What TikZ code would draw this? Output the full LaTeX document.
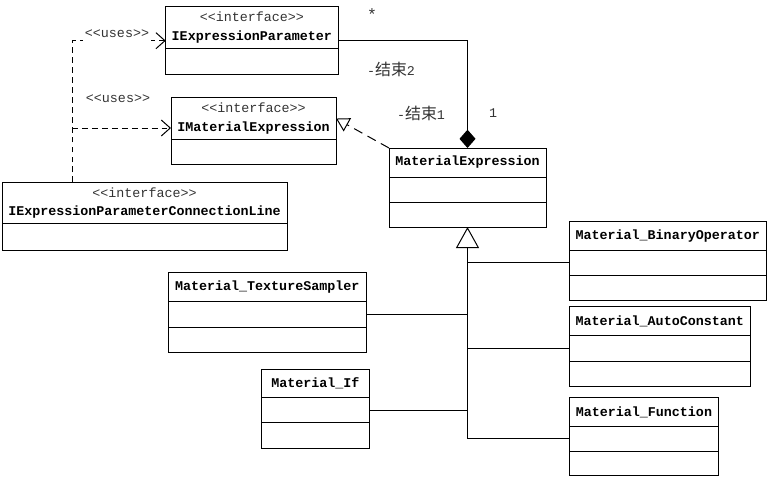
\documentclass[tikz,border=0pt]{standalone}
\usepackage{fontspec}
\setmonofont{Liberation Mono}
\newfontfamily\cjk{Noto Sans CJK SC}
\usetikzlibrary{positioning,arrows.meta}
\newcommand{\zh}[1]{{\cjk\fontsize{13.6}{14}\selectfont #1}}

\begin{document}
\begin{tikzpicture}[x=0.03cm,y=-0.03cm,line width=0.85pt,
    head/.style={draw,outer sep=0pt,inner sep=0pt,anchor=north west,align=center,
      font=\ttfamily\bfseries\fontsize{11.4}{15.4}\selectfont},
    comp/.style={draw,outer sep=0pt,inner sep=0pt,minimum height=0.76cm},
    lbl/.style={text=black!80,font=\ttfamily\fontsize{11.4}{14}\selectfont},
    uses/.style={dash pattern=on 5pt off 3.5pt,-{Straight Barb[length=0.27cm,width=0.48cm]}},
    realize/.style={dash pattern=on 8pt off 5pt,-{Triangle[open,length=0.39cm,width=0.45cm]}},
    inherit/.style={-{Triangle[open,length=0.63cm,width=0.69cm]}},
    compose/.style={-{Diamond[length=0.55cm,width=0.48cm]}}]
    \useasboundingbox (0,0) rectangle (767,477);

    % interfaces
    \node[head,minimum width=5.17cm,minimum height=1.25cm] (ep) at (165.7,6.7)
        {{\mdseries\color{black!80}<<interface>>}\\IExpressionParameter};
    \node[comp,minimum width=5.17cm,minimum height=0.77cm,below=0pt of ep] (ep1) {};

    \node[head,minimum width=4.95cm,minimum height=1.25cm] (ime) at (171,97.7)
        {{\mdseries\color{black!80}<<interface>>}\\IMaterialExpression};
    \node[comp,minimum width=4.95cm,minimum height=0.74cm,below=0pt of ime] (ime1) {};

    \node[head,minimum width=8.55cm,minimum height=1.23cm] (cl) at (2,182.3)
        {{\mdseries\color{black!80}<<interface>>}\\IExpressionParameterConnectionLine};
    \node[comp,minimum width=8.55cm,minimum height=0.81cm,below=0pt of cl] (cl1) {};

    % classes
    \node[head,minimum width=4.71cm,minimum height=0.87cm] (me) at (389,148) {MaterialExpression};
    \node[comp,minimum width=4.71cm,minimum height=0.75cm,below=0pt of me] (me1) {};
    \node[comp,minimum width=4.71cm,minimum height=0.75cm,below=0pt of me1] (me2) {};

    \node[head,minimum width=5.895cm,minimum height=0.85cm] (bin) at (569.5,221.7) {Material\_BinaryOperator};
    \node[comp,minimum width=5.895cm,below=0pt of bin] (bin1) {};
    \node[comp,minimum width=5.895cm,below=0pt of bin1] (bin2) {};

    \node[head,minimum width=5.93cm,minimum height=0.876cm] (tex) at (168.4,272.5) {Material\_TextureSampler};
    \node[comp,minimum width=5.93cm,below=0pt of tex] (tex1) {};
    \node[comp,minimum width=5.93cm,below=0pt of tex1] (tex2) {};

    \node[head,minimum width=5.415cm,minimum height=0.87cm] (aut) at (569.5,306.7) {Material\_AutoConstant};
    \node[comp,minimum width=5.415cm,below=0pt of aut] (aut1) {};
    \node[comp,minimum width=5.415cm,below=0pt of aut1] (aut2) {};

    \node[head,minimum width=3.23cm,minimum height=0.846cm] (if) at (261.6,369.3) {Material\_If};
    \node[comp,minimum width=3.23cm,below=0pt of if] (if1) {};
    \node[comp,minimum width=3.23cm,below=0pt of if1] (if2) {};

    \node[head,minimum width=4.464cm,minimum height=0.864cm] (fun) at (569.5,397.5) {Material\_Function};
    \node[comp,minimum width=4.464cm,below=0pt of fun] (fun1) {};
    \node[comp,minimum width=4.464cm,minimum height=0.73cm,below=0pt of fun1] (fun2) {};

    % generalization
    \draw[inherit] (fun1.west -| me2.south) -- (me2.south);
    \draw (bin1.west) -- (bin1.west -| me2.south);
    \draw (aut1.west) -- (aut1.west -| me2.south);
    \draw (fun1.west) -- (fun1.west -| me2.south);
    \draw (tex1.east) -- (tex1.east -| me2.south);
    \draw (if1.east) -- (if1.east -| me2.south);

    % composition and realization
    \draw[compose] ([yshift=6.5pt]ep.south east) -| (me.north);
    \draw[realize] (me.north west) -- (ime.east);

    % uses
    \coordinate (usesTop) at (72,40.7);
    \coordinate (usesMid) at (72,128);
    \draw[uses] (cl.north -| usesTop) -- (usesTop) -- (usesTop -| ep.west);
    \draw[uses] (usesMid) -- (usesMid -| ime.west);

    \node[lbl,fill=white,minimum height=0.5cm,inner xsep=2pt] (uses1) at (117,34) {<<uses>>};
    \node[lbl] (uses2) at (118,99) {<<uses>>};
    \node[lbl,font=\ttfamily\fontsize{14}{14}\selectfont] (mult) at (372,15) {*};
    \node[lbl] (role2) at (391,69) {-\zh{结束}2};
    \node[lbl] (role1) at (421,113) {-\zh{结束}1};
    \node[lbl] (one) at (493,113) {1};
\end{tikzpicture}
\end{document}
